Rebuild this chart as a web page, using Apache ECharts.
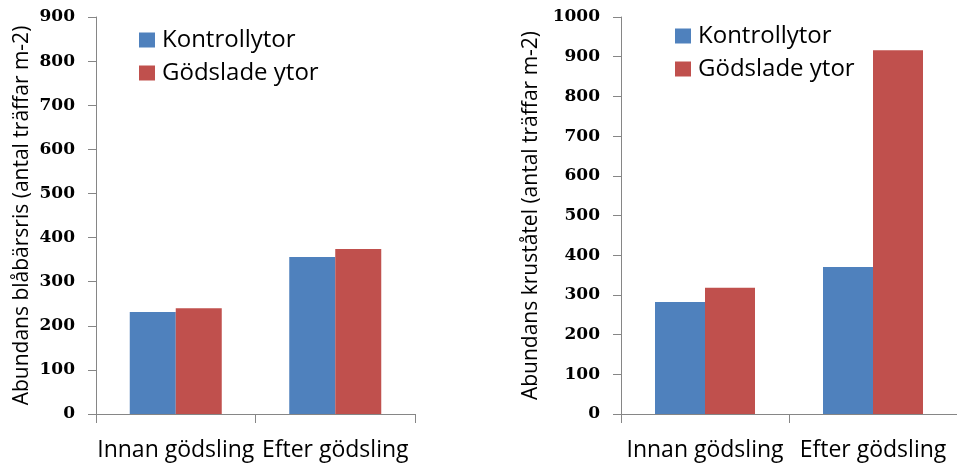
<!DOCTYPE html>
<html>
<head>
<meta charset="utf-8">
<script src="https://cdn.jsdelivr.net/npm/echarts@6/dist/echarts.min.js"></script>
<style>
html,body{margin:0;padding:0;background:#fff;}
#c{width:957px;height:463px;}
</style>
</head>
<body>
<div id="c"></div>
<script>
const categories = ['Innan gödsling', 'Efter gödsling'];
const seriesNames = ['Kontrollytor', 'Gödslade ytor'];
const leftKontroll = [231, 356];
const leftGodslade = [240, 374];
const rightKontroll = [282, 370];
const rightGodslade = [318, 916];
const leftTitle = 'Abundans blåbärsris (antal träffar m-2)';
const rightTitle = 'Abundans kruståtel (antal träffar m-2)';

const BLUE = '#4F81BD', RED = '#C0504D', AXIS = '#868686';
const textFont = "'Open Sans', 'Noto Sans', sans-serif";

function yAxis(gi, max, name) {
  return {
    type: 'value', gridIndex: gi, min: 0, max: max, interval: 100,
    name: name, nameLocation: 'middle', nameGap: gi === 0 ? 63 : 79, nameRotate: 90,
    nameTextStyle: { fontFamily: textFont, fontSize: 21, color: '#000' },
    axisLine: { show: true, lineStyle: { color: AXIS, width: 1 } },
    axisTick: { show: true, length: 8, lineStyle: { color: AXIS } },
    splitLine: { show: false },
    axisLabel: { margin: 21, fontFamily: "'DejaVu Serif', serif", fontWeight: 'bold', fontSize: 17, color: '#000',
      formatter: v => String(v) }
  };
}
function xAxis(gi) {
  return {
    type: 'category', gridIndex: gi, data: categories,
    axisLine: { show: true, lineStyle: { color: AXIS, width: 1 } },
    axisTick: { show: true, length: 9, lineStyle: { color: AXIS } },
    axisLabel: { margin: 25, fontFamily: textFont, fontSize: 23, color: '#000', interval: 0 }
  };
}
function legend(left, top) {
  return { left: left, top: top, orient: 'vertical', padding: 0, itemWidth: 16, itemHeight: 15, itemGap: 9, icon: 'rect',
    textStyle: { fontFamily: textFont, fontSize: 24, color: '#000', padding: [0, 0, 0, 2] },
    data: seriesNames.map(n => ({ name: n })) };
}

const option = {
  animation: false,
  backgroundColor: '#fff',
  grid: [
    { left: 96, top: 17, right: 542, bottom: 49 },
    { left: 621, top: 17, right: -12, bottom: 49 }
  ],
  xAxis: [xAxis(0), xAxis(1)],
  yAxis: [yAxis(0, 900, leftTitle), yAxis(1, 1000, rightTitle)],
  legend: [legend(139, 28), legend(675, 24)],
  series: [
    { name: seriesNames[0], type: 'bar', xAxisIndex: 0, yAxisIndex: 0, data: leftKontroll, barWidth: 46, barGap: '0%', itemStyle: { color: BLUE } },
    { name: seriesNames[1], type: 'bar', xAxisIndex: 0, yAxisIndex: 0, data: leftGodslade, barWidth: 46, barGap: '0%', itemStyle: { color: RED } },
    { name: seriesNames[0], type: 'bar', xAxisIndex: 1, yAxisIndex: 1, data: rightKontroll, barWidth: 50, barGap: '0%', itemStyle: { color: BLUE } },
    { name: seriesNames[1], type: 'bar', xAxisIndex: 1, yAxisIndex: 1, data: rightGodslade, barWidth: 50, barGap: '0%', itemStyle: { color: RED } }
  ]
};
const chart = echarts.init(document.getElementById('c'), null, { renderer: 'canvas' });
chart.setOption(option);
</script>
</body>
</html>
